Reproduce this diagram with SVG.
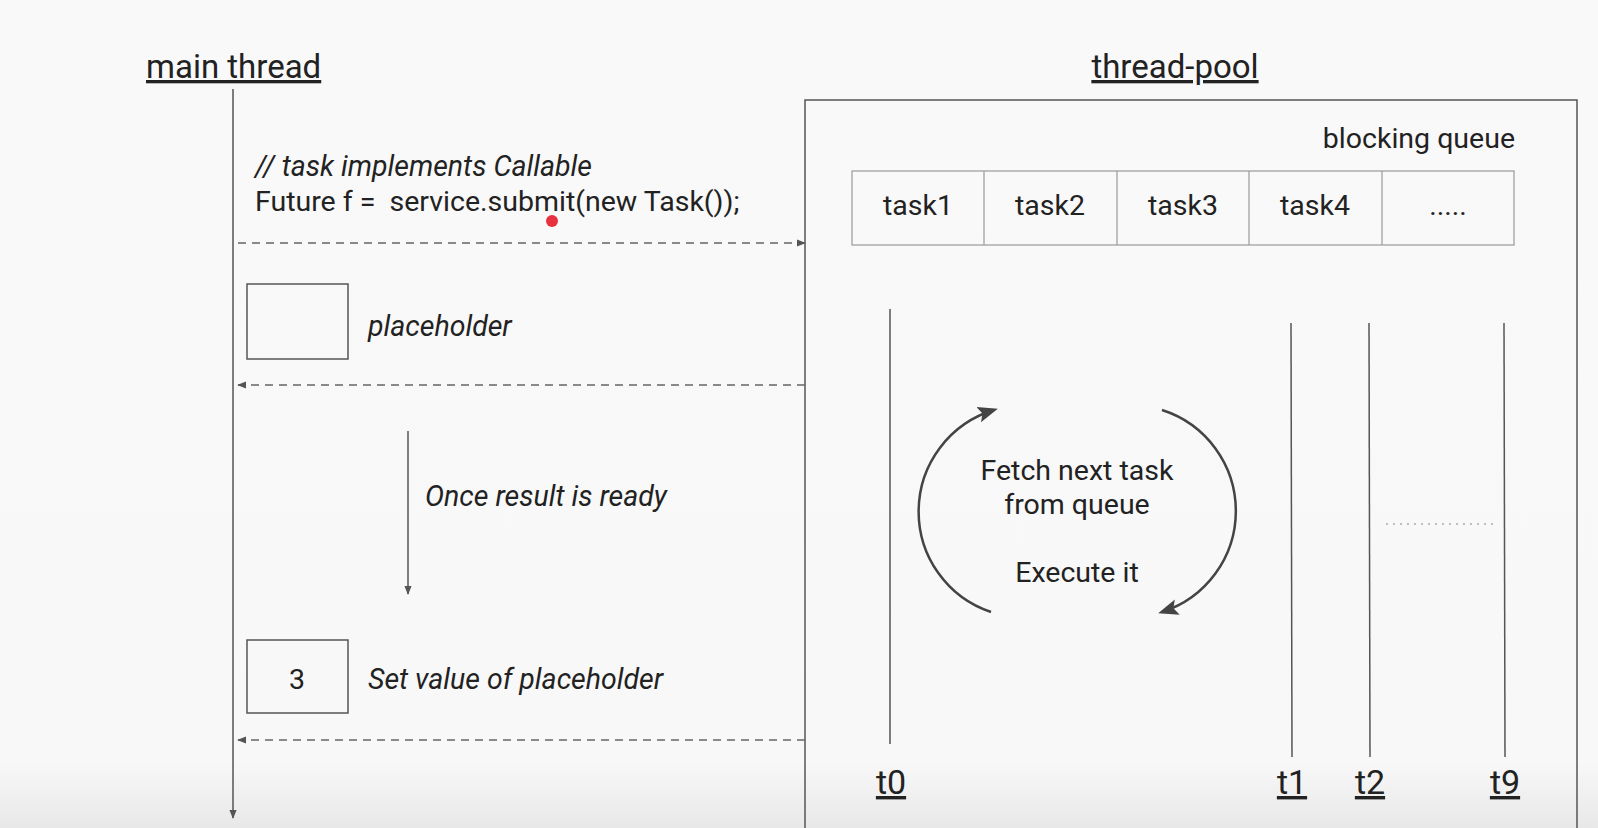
<svg xmlns="http://www.w3.org/2000/svg" width="1598" height="828" viewBox="0 0 1598 828">
<defs>
<linearGradient id="bg" x1="0" y1="0" x2="0" y2="1">
<stop offset="0" stop-color="#f9f9f9"/>
<stop offset="0.92" stop-color="#f8f8f8"/>
<stop offset="1" stop-color="#e8e8e8"/>
</linearGradient>
<marker id="ah" viewBox="0 0 10 10" refX="9" refY="5" markerWidth="9" markerHeight="9" markerUnits="userSpaceOnUse" orient="auto">
<path d="M0,1 L10,5 L0,9 z" fill="#555"/>
</marker>
<marker id="ahBig" viewBox="0 0 10 10" refX="8" refY="5" markerWidth="20" markerHeight="20" markerUnits="userSpaceOnUse" orient="auto">
<path d="M0,1 L10,5 L0,9 L2,5 z" fill="#444"/>
</marker>
</defs>
<style>
text{font-family:Roboto,"Liberation Sans",sans-serif;fill:#222;}
.h{font-size:33px;text-decoration:underline;}
.t{font-size:28.5px;}
.it{font-size:28.5px;font-style:italic;}
.lbl{font-size:34px;text-decoration:underline;}
.ln{stroke:#555;stroke-width:1.5;fill:none;}
.dash{stroke:#666;stroke-width:1.5;fill:none;stroke-dasharray:8 6;}
.box{stroke:#555;stroke-width:1.5;fill:none;}
.cell{stroke:#999;stroke-width:1.2;fill:none;}
</style>
<rect width="1598" height="828" fill="url(#bg)"/>

<g id="main-thread">
<text class="h" x="146" y="78">main thread</text>
<line class="ln" x1="233" y1="89" x2="233" y2="818" marker-end="url(#ah)"/>
</g>

<g id="submit-code">
<text class="it" x="255" y="176">// task implements Callable</text>
<text class="t" x="255" y="211" xml:space="preserve">Future f =  service.submit(new Task());</text>
<circle cx="552" cy="221" r="6" fill="#e8323f"/>
</g>

<g id="placeholder">
<rect class="box" x="247" y="284" width="101" height="75"/>
<text class="it" x="368" y="336">placeholder</text>
</g>

<g id="once-ready">
<line class="ln" x1="408" y1="431" x2="408" y2="594" marker-end="url(#ah)"/>
<text class="it" x="425" y="506">Once result is ready</text>
</g>

<g id="value-box">
<rect class="box" x="247" y="640" width="101" height="73"/>
<text class="t" x="297" y="689" text-anchor="middle" font-size="34">3</text>
<text class="it" x="368" y="689">Set value of placeholder</text>
</g>

<g id="thread-pool">
<text class="h" x="1175" y="78" text-anchor="middle">thread-pool</text>
<rect class="box" x="805" y="100" width="772" height="740"/>
</g>

<g id="blocking-queue">
<text class="t" x="1515" y="148" text-anchor="end">blocking queue</text>
<rect class="cell" x="852" y="171" width="662" height="74"/>
<line class="cell" x1="984" y1="171" x2="984" y2="245"/>
<line class="cell" x1="1117" y1="171" x2="1117" y2="245"/>
<line class="cell" x1="1249" y1="171" x2="1249" y2="245"/>
<line class="cell" x1="1382" y1="171" x2="1382" y2="245"/>
<text class="t" x="918" y="215" text-anchor="middle">task1</text>
<text class="t" x="1050" y="215" text-anchor="middle">task2</text>
<text class="t" x="1183" y="215" text-anchor="middle">task3</text>
<text class="t" x="1315" y="215" text-anchor="middle">task4</text>
<text class="t" x="1448" y="215" text-anchor="middle">.....</text>
</g>

<g id="t0">
<line class="ln" x1="890" y1="309" x2="890" y2="744"/>
<text class="lbl" x="891" y="794" text-anchor="middle">t0</text>
</g>
<g id="t1">
<line class="ln" x1="1291" y1="323" x2="1292" y2="757"/>
<text class="lbl" x="1292" y="794" text-anchor="middle">t1</text>
</g>
<g id="t2">
<line class="ln" x1="1369" y1="323" x2="1370" y2="757"/>
<text class="lbl" x="1370" y="794" text-anchor="middle">t2</text>
</g>
<g id="t9">
<line class="ln" x1="1504" y1="323" x2="1505" y2="757"/>
<text class="lbl" x="1505" y="794" text-anchor="middle">t9</text>
</g>
<line x1="1386" y1="524" x2="1494" y2="524" stroke="#aaa" stroke-width="1.5" stroke-dasharray="2 5"/>

<g id="loop">
<text class="t" x="1077" y="480" text-anchor="middle">Fetch next task</text>
<text class="t" x="1077" y="514" text-anchor="middle">from queue</text>
<text class="t" x="1077" y="582" text-anchor="middle">Execute it</text>
</g>

<g id="connectors">
<line class="dash" x1="238" y1="243" x2="805" y2="243" marker-end="url(#ah)"/>
<line class="dash" x1="805" y1="385" x2="238" y2="385" marker-end="url(#ah)"/>
<line class="dash" x1="805" y1="740" x2="238" y2="740" marker-end="url(#ah)"/>
<path d="M991 612 A106 106 0 0 1 994 410" stroke="#444" stroke-width="2.5" fill="none" marker-end="url(#ahBig)"/>
<path d="M1162 410 A106 106 0 0 1 1162 612" stroke="#444" stroke-width="2.5" fill="none" marker-end="url(#ahBig)"/>
</g>
</svg>
